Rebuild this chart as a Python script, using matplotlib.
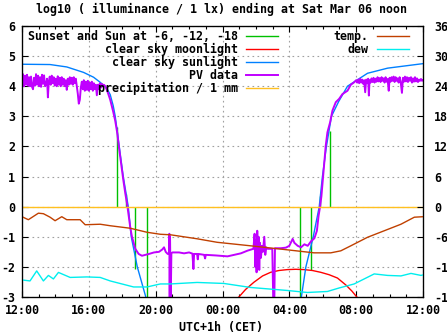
import matplotlib
matplotlib.use('Agg')
import matplotlib.pyplot as plt
from matplotlib.lines import Line2D
from matplotlib.ticker import MultipleLocator

# ---------------- data (hours since 12:00 noon) ----------------
x_tick_labels = ['12:00', '16:00', '20:00', '00:00', '04:00', '08:00', '12:00']
y_left_ticks = [-3, -2, -1, 0, 1, 2, 3, 4, 5, 6]
y_right_ticks = [-18, -12, -6, 0, 6, 12, 18, 24, 30, 36]

# sunset / sun at -6, -12, -18 markers (time, line end value)
sun_event_h = [5.66, 6.22, 6.78, 7.48, 16.64, 17.30, 17.84, 18.44]
sun_event_v = [2.63, 0.43, -2.07, -3.0, -3.0, -2.1, 0.37, 2.52]

# clear sky moonlight
moon_h = [12.98, 13.38, 13.88, 14.40, 14.88, 15.38, 15.88, 16.38, 16.88, 17.38, 17.88, 18.38, 18.88, 19.38, 19.74, 20.04]
moon_v = [-3.0, -2.75, -2.51, -2.30, -2.18, -2.12, -2.09, -2.08, -2.09, -2.12, -2.18, -2.26, -2.37, -2.60, -2.80, -3.0]

# clear sky sunlight
sun_h = [0.0, 1.68, 2.68, 3.68, 4.28, 4.68, 5.08, 5.28, 5.46, 5.58, 5.82, 6.06, 6.24, 6.36,
         6.54, 6.90, 7.41, 7.70,
         16.40, 16.72, 16.99, 17.43, 17.79, 17.98, 18.22, 18.52, 18.96, 19.48, 20.68, 21.88, 24.0]
sun_v = [4.73, 4.72, 4.64, 4.46, 4.30, 4.13, 3.93, 3.72, 3.35, 3.00, 2.00, 1.00, 0.40, 0.00,
         -1.00, -2.00, -3.00, -3.60,
         -3.60, -3.00, -2.00, -1.00, 0.00, 1.00, 2.00, 3.00, 3.50, 4.00, 4.43, 4.60, 4.75]

# PV data
pv_h = [0.00, 0.06, 0.12, 0.18, 0.24, 0.30, 0.36, 0.42, 0.48, 0.54, 0.60, 0.66, 0.72, 0.78, 0.84,
        0.90, 0.96, 1.02, 1.08, 1.14, 1.20, 1.26, 1.32, 1.38, 1.44, 1.50, 1.55, 1.60, 1.66, 1.72,
        1.78, 1.84, 1.90, 1.96, 2.02, 2.08, 2.14, 2.20, 2.26, 2.32, 2.38, 2.44, 2.50, 2.56, 2.62,
        2.68, 2.74, 2.80, 2.86, 2.92, 2.98, 3.04, 3.10, 3.16, 3.22, 3.28, 3.34, 3.40, 3.46, 3.52,
        3.58, 3.64, 3.70, 3.76, 3.82, 3.88, 3.94, 4.00, 4.06, 4.12, 4.18, 4.24, 4.30, 4.36, 4.42,
        4.48, 4.54, 4.60, 4.66, 4.72, 4.78, 4.84, 4.90, 4.98,
        5.10, 5.28, 5.46, 5.58, 5.70, 5.82, 5.94, 6.06, 6.18, 6.30, 6.40, 6.48, 6.58, 6.78, 6.98,
        7.18, 7.40, 7.60, 7.90, 8.20, 8.40, 8.50, 8.60, 8.72, 8.80, 8.82, 8.84, 8.86, 8.90, 8.94,
        9.00, 9.40, 9.70, 10.00, 10.20, 10.26, 10.30, 10.48, 10.52, 10.56, 10.90, 10.96, 11.00,
        11.60, 12.30, 12.70, 13.10, 13.50, 13.85, 13.92, 13.96, 14.00, 14.04, 14.08, 14.12, 14.16,
        14.20, 14.24, 14.30, 14.36, 14.42, 14.50, 14.56, 14.62, 14.70, 14.90, 14.98, 15.04, 15.10,
        15.14, 15.50, 15.80, 16.00, 16.20, 16.30, 16.50, 16.70, 16.90, 17.10, 17.30, 17.50, 17.65,
        17.75, 17.84, 17.92, 18.00, 18.10, 18.18, 18.28, 18.44, 18.58, 18.78, 18.98, 19.18, 19.48,
        19.68, 19.88, 20.00, 20.06, 20.12, 20.18, 20.24, 20.30, 20.36, 20.42, 20.48, 20.54, 20.60,
        20.66, 20.72, 20.76, 20.80, 20.86, 20.92, 20.98, 21.04, 21.10, 21.16, 21.22, 21.28, 21.34,
        21.40, 21.46, 21.52, 21.58, 21.64, 21.70, 21.76, 21.82, 21.88, 21.95, 22.00, 22.06, 22.12,
        22.18, 22.24, 22.30, 22.36, 22.42, 22.48, 22.54, 22.60, 22.66, 22.74, 22.80, 22.86, 22.92,
        22.98, 23.04, 23.10, 23.16, 23.22, 23.28, 23.34, 23.40, 23.46, 23.52, 23.58, 23.64, 23.70,
        23.76, 23.82, 23.88, 23.94, 24.00]
pv_v = [4.10, 4.40, 4.00, 4.35, 4.05, 4.38, 4.02, 4.30, 4.00, 4.32, 3.98, 3.90, 4.28, 4.02, 4.40,
        4.05, 4.35, 4.00, 4.30, 3.98, 4.38, 4.08, 4.36, 4.00, 4.05, 4.25, 3.63, 4.12, 4.32, 4.05,
        4.35, 4.10, 4.30, 4.02, 4.25, 4.00, 4.33, 4.05, 4.28, 4.00, 4.30, 4.05, 4.25, 4.00, 4.20,
        3.88, 4.25, 4.05, 4.30, 4.08, 4.28, 4.05, 4.30, 4.10, 4.25, 4.00, 3.75, 3.42, 3.55, 3.95,
        4.15, 3.90, 4.20, 3.85, 4.15, 3.88, 4.18, 3.85, 4.12, 3.90, 4.15, 3.85, 4.10, 3.90, 4.05,
        3.70, 4.05, 3.90, 4.10, 3.95, 4.08, 4.00, 4.05, 4.00,
        3.85, 3.55, 3.15, 2.85, 2.45, 1.90, 1.40, 0.90, 0.45, 0.05, -0.35, -0.69, -1.00, -1.40, -1.57,
        -1.63, -1.60, -1.57, -1.52, -1.50, -1.42, -1.35, -1.50, -1.57, -1.55, -0.90, -3.20, -1.00, -3.20, -1.55,
        -1.52, -1.52, -1.55, -1.52, -1.56, -2.07, -1.57, -1.57, -1.75, -1.57, -1.60, -1.72, -1.60,
        -1.62, -1.65, -1.60, -1.55, -1.46, -1.40, -0.90, -2.00, -1.10, -2.18, -0.80, -1.90, -1.00,
        -2.10, -1.20, -1.70, -1.30, -1.50, -1.00, -1.60, -1.35, -1.40, -1.40, -1.40, -3.20, -3.20,
        -1.38, -1.38, -1.36, -1.30, -1.07, -1.20, -1.30, -1.35, -1.25, -1.30, -1.15, -1.05, -0.80,
        -0.30, 0.00, 0.35, 0.86, 1.53, 2.03, 2.47, 2.80, 3.19, 3.47, 3.58, 3.74, 3.85,
        4.05, 4.13, 4.20, 4.12, 4.22, 4.10, 4.25, 4.12, 4.22, 4.08, 4.20, 3.80, 4.22,
        4.10, 4.25, 3.69, 4.20, 4.12, 4.26, 4.14, 4.28, 4.12, 4.25, 4.15, 4.30, 4.16,
        4.27, 4.14, 4.30, 4.18, 4.26, 4.12, 4.30, 4.15, 4.24, 3.85, 4.28, 4.15, 4.30,
        4.18, 4.32, 4.14, 4.30, 4.18, 4.26, 4.12, 4.30, 4.16, 3.78, 4.28, 4.15, 4.32,
        4.16, 4.30, 4.14, 4.28, 4.18, 4.30, 4.12, 4.26, 4.15, 4.30, 4.16, 4.26, 4.14,
        4.22, 4.18, 4.24, 4.18, 4.20]

# precipitation (log scale marker line)
precip_h = [0.0, 24.0]
precip_v = [0.0, 0.0]

# temperature and dew point (degC, right axis)
temp_h = [0.0, 0.38, 0.98, 1.28, 1.68, 1.98, 2.38, 2.68, 3.48, 3.78, 4.68, 5.28, 6.48, 7.48, 8.28,
          8.88, 10.48, 11.68, 13.68, 15.88, 16.68, 17.48, 18.48, 19.08, 19.68, 20.68, 21.68, 22.68,
          23.48, 24.0]
temp_v = [-2.0, -2.6, -1.3, -1.4, -2.1, -2.8, -2.0, -2.6, -2.6, -3.6, -3.5, -3.8, -4.3, -5.1, -5.5,
          -5.6, -6.4, -7.1, -7.8, -8.6, -8.9, -9.2, -9.2, -8.8, -7.8, -6.1, -4.8, -3.5,
          -2.1, -2.0]
dew_h = [0.0, 0.48, 0.88, 1.28, 1.58, 1.88, 2.18, 2.88, 3.88, 4.68, 5.28, 6.68, 7.48, 8.28, 8.88,
         10.48, 12.08, 13.68, 15.88, 17.08, 18.28, 18.98, 19.88, 21.08, 21.88, 22.68, 23.28, 23.88, 24.0]
dew_v = [-14.6, -14.8, -12.8, -14.8, -13.7, -14.4, -13.1, -14.1, -14.0, -14.1, -14.8, -16.0, -16.0,
         -15.4, -15.4, -15.1, -15.3, -16.1, -16.7, -17.1, -16.9, -16.2, -15.4, -13.4, -13.7,
         -13.8, -13.3, -13.7, -13.6]

# ---------------- style ----------------
FS = 8.4
plt.rcParams['font.family'] = ['DejaVu Sans Mono']
plt.rcParams['font.weight'] = 'bold'
C_GREEN = '#00c000'
C_RED = '#ff0000'
C_BLUE = '#0080ff'
C_PURPLE = '#c000ff'
C_ORANGE = '#ffc020'
C_BROWN = '#c04000'
C_CYAN = '#00eeee'

fig = plt.figure(figsize=(4.47, 3.35), dpi=100)
ax = fig.add_axes([22 / 447, 38 / 335, 401 / 447, 271 / 335])
ax.set_xlim(0, 24)
ax.set_ylim(-3, 6)

ax.vlines(sun_event_h, 0, sun_event_v, color=C_GREEN, lw=1.0)
ax.plot(moon_h, moon_v, color=C_RED, lw=1.0)
ax.plot(sun_h, sun_v, color=C_BLUE, lw=1.0)
ax.plot(pv_h, pv_v, color=C_PURPLE, lw=1.4)
ax.plot(precip_h, precip_v, color=C_ORANGE, lw=1.0)

ax.set_xticks(list(range(0, 25, 4)))
ax.set_xticklabels(x_tick_labels, fontsize=FS, fontweight='bold')
ax.xaxis.set_minor_locator(MultipleLocator(1))
ax.set_yticks(y_left_ticks)
ax.set_yticklabels([str(t) for t in y_left_ticks], fontsize=FS, fontweight='bold')
ax.tick_params(axis='both', which='major', direction='in', length=4, width=0.8, top=True, right=False)
ax.tick_params(axis='x', which='major', pad=5)
ax.tick_params(axis='y', which='major', pad=5)
ax.tick_params(axis='x', which='minor', direction='in', length=2.5, width=0.8, top=True)
ax.grid(True, which='major', color='#a0a0a0', ls=(0, (1.5, 3)), lw=0.8)
ax.set_axisbelow(True)
for s in ax.spines.values():
    s.set_linewidth(0.9)

ax2 = ax.twinx()
ax2.set_ylim(-18, 36)
ax2.plot(temp_h, temp_v, color=C_BROWN, lw=1.0)
ax2.plot(dew_h, dew_v, color=C_CYAN, lw=1.0)
ax2.set_yticks(y_right_ticks)
ax2.set_yticklabels([str(t) for t in y_right_ticks], fontsize=FS, fontweight='bold')
ax2.tick_params(axis='y', direction='in', length=4, width=0.8, pad=8)

prop = {'family': 'DejaVu Sans Mono', 'weight': 'bold', 'size': FS}
h1 = [Line2D([], [], color=C_GREEN, lw=1.0), Line2D([], [], color=C_RED, lw=1.0),
      Line2D([], [], color=C_BLUE, lw=1.0), Line2D([], [], color=C_PURPLE, lw=1.4),
      Line2D([], [], color=C_ORANGE, lw=1.0)]
l1 = ['Sunset and Sun at -6, -12, -18', 'clear sky moonlight', 'clear sky sunlight',
      'PV data', 'precipitation / 1 mm']
leg1 = ax2.legend(h1, l1, loc='upper left', bbox_to_anchor=(6 / 401, 1 - 4 / 271),
                  markerfirst=False, frameon=False, borderpad=0, borderaxespad=0,
                  handlelength=2.75, handletextpad=0.7, labelspacing=0.0, prop=prop)
ax2.add_artist(leg1)
h2 = [Line2D([], [], color=C_BROWN, lw=1.0), Line2D([], [], color=C_CYAN, lw=1.0)]
l2 = ['temp.', 'dew']
ax2.legend(h2, l2, loc='upper right', bbox_to_anchor=(1 - 14 / 401, 1 - 4 / 271),
           markerfirst=False, frameon=False, borderpad=0, borderaxespad=0,
           handlelength=2.75, handletextpad=0.7, labelspacing=0.0, prop=prop)

fig.text(222 / 447, 1 - 9 / 335, 'log10 ( illuminance / 1 lx) ending at Sat Mar 06 noon',
         ha='center', va='center', fontsize=FS, fontweight='bold')
fig.text(221 / 447, 1 - 327 / 335, 'UTC+1h (CET)', ha='center', va='center',
         fontsize=FS, fontweight='bold')

fig.savefig('out.png', dpi=100)
